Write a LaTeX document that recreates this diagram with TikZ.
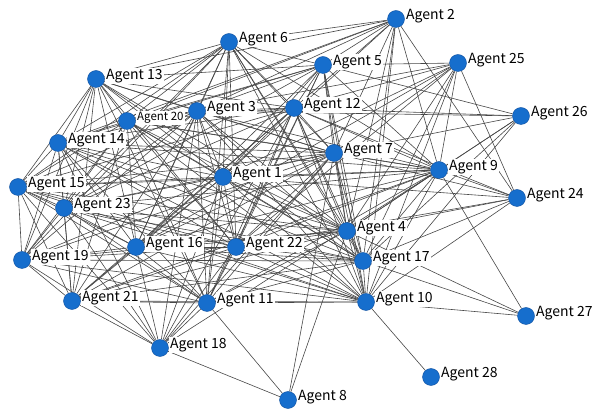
\documentclass[tikz,border=0pt]{standalone}
\usepackage{fontspec}
\newfontfamily\lblfont{Noto Sans CJK JP}
\pgfdeclarelayer{background}
\pgfsetlayers{background,main}
\definecolor{agentblue}{RGB}{22,110,205}
\definecolor{agentedge}{RGB}{15,80,160}
\tikzset{
  agent/.style={circle,fill=agentblue,draw=agentedge,line width=0.4pt,minimum size=17pt,inner sep=0pt},
  lbl/.style={anchor=west,fill=white,inner sep=1pt,font=\lblfont\fontsize{14}{15}\selectfont},
  lblsmall/.style={lbl,font=\lblfont\fontsize{11.5}{12}\selectfont},
  link/.style={draw=black!72,line width=0.6pt}
}
\begin{document}
\begin{tikzpicture}[x=1pt,y=-1pt]
\useasboundingbox (0,0) rectangle (600,419);
\foreach \i/\x/\y in {1/223/177,2/396/19,3/197/111,4/347/231,5/323/65,6/229/42,7/334/153,8/288/400,9/439/170,10/366/302,11/207/303,12/294/108,13/96/79,14/58/143,15/18/187,16/136/247,17/363/261,18/160/348,19/22/260,21/72/301,22/236/247,23/64/208,24/517/198,25/458/63,26/521/116,27/526/316,28/431/377}{
  \node[agent] (a\i) at (\x,\y) {};
  \node[lbl] (l\i) at (\x+9,\y-3) {Agent \i};
}
\node[agent] (a20) at (127,121) {};
\node[lblsmall] (l20) at (136,118) {Agent 20};
\begin{pgfonlayer}{background}
\foreach \a/\bs in {
 28/{10},
 27/{4,17,10,9},
 8/{18,11,4,7},
 24/{9,2,25,7,12,4,17,22,1,10},
 26/{5,12,3,7,9,4,17,10},
 25/{5,12,7,9,4,17,10,22,1,3,16},
 2/{6,13,5,12,3,7,1,4,17,10,9,20,14},
 6/{13,3,20,14,15,1,12,5,7,9,4,22,16,23,11,17,10,19},
 5/{13,3,20,14,12,7,1,22,16,4,17,10,9,23,11},
 12/{13,3,20,14,15,23,1,7,22,16,4,17,10,11,9,18,21},
 13/{3,20,14,15,23,19,21,16,1,7,22,11,4,17},
 3/{20,14,15,23,19,21,16,1,7,22,11,4,17,10,18,9},
 20/{14,15,23,19,21,16,1,7,22,4,17,10,11,9},
 14/{15,23,19,21,16,1,7,22,11,4,17,10,18,9},
 15/{23,19,21,16,1,7,22,11,4,17,10,18},
 7/{1,23,16,22,11,4,17,10,18,21,19,9},
 9/{1,16,22,11,4,17,10,23,21,18,15},
 1/{23,19,21,16,22,11,4,17,10,18},
 23/{19,21,16,22,11,4,17,10,18},
 16/{19,21,22,11,4,17,10,18},
 22/{19,21,11,4,17,10,18},
 19/{21,11,4,17,10,18},
 21/{11,4,17,10,18},
 11/{4,17,10,18},
 4/{17,10},
 17/{10}}{
  \foreach \b in \bs { \draw[link] (a\a) -- (a\b); }
}
\end{pgfonlayer}
\end{tikzpicture}
\end{document}
